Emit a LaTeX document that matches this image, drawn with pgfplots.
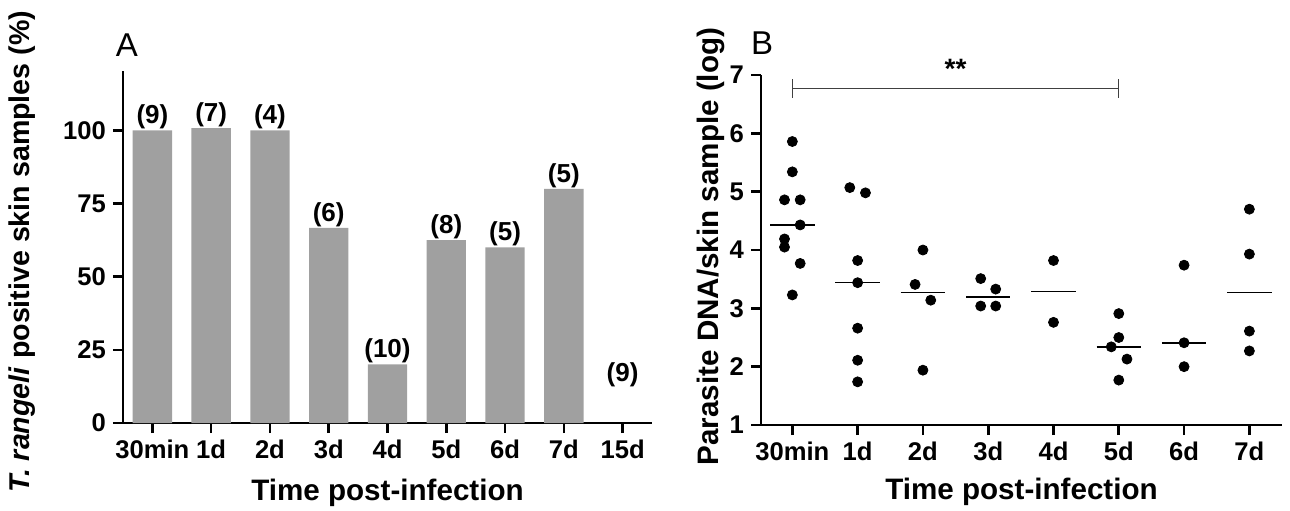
\documentclass[border=0pt]{standalone}
\usepackage{pgfplots}
\pgfplotsset{compat=1.18}
\usepackage{fontspec}
\setmainfont{Liberation Sans}
\definecolor{bargray}{RGB}{160,160,160}
\pgfplotstableread{
x y lab
0 100 (9)
1 100.8 (7)
2 100 (4)
3 66.7 (6)
4 20 (10)
5 62.5 (8)
6 60 (5)
7 80 (5)
}\bardata
\pgfplotstableread{
x y
0 5.86
0 5.34
-0.12 4.86
0.12 4.86
0.12 4.43
-0.12 4.19
-0.12 4.05
0.12 3.77
0 3.23
0.88 5.07
1.12 4.98
1 3.82
1 3.44
1 2.66
1 2.11
1 1.74
2 4.00
1.88 3.41
2.12 3.14
2 1.94
2.885 3.51
3.115 3.33
2.885 3.04
3.115 3.04
4 3.82
4 2.76
5 2.91
5 2.50
4.885 2.34
5.125 2.13
5 1.77
6 3.74
6 2.41
6 2.00
7 4.70
7 3.93
7 2.61
7 2.27
}\dotdata
\pgfplotstableread{
x y
-0.34 4.43
0.34 4.43
0.34 nan
0.66 3.44
1.34 3.44
1.34 nan
1.66 3.27
2.34 3.27
2.34 nan
2.66 3.19
3.34 3.19
3.34 nan
3.66 3.29
4.34 3.29
4.34 nan
4.66 2.34
5.34 2.34
5.34 nan
5.66 2.41
6.34 2.41
6.34 nan
6.66 3.27
7.34 3.27
}\mediandata
\begin{document}
\begin{tikzpicture}
\useasboundingbox (0,0) rectangle (645pt,-255pt);
\pgfplotsset{
  gp/.style={
    scale only axis,
    axis x line*=bottom, axis y line*=left,
    axis line style={line width=1.3pt, -},
    major tick style={black, line width=1.3pt},
    tick align=outside,
    major tick length=5pt,
    minor tick num=0,
    tick label style={font=\fontsize{12.8}{14}\selectfont\bfseries},
    /pgf/number format/assume math mode=true,
    label style={font=\fontsize{14.8}{17}\selectfont\bfseries},
    clip=false,
  }
}
% Panel A
\begin{axis}[gp, at={(61.5pt,-211.5pt)}, anchor=south west,
  width=264.5pt, height=176pt,
  xmin=-0.5, xmax=8.5, ymin=0, ymax=120.3,
  xtick={0,...,8}, xticklabels={30min,1d,2d,3d,4d,5d,6d,7d,15d},
  ytick={0,25,50,75,100},
  xlabel={Time post-infection},
  ylabel={\textit{T. rangeli} positive skin samples (\%)},
  xlabel style={at={(axis description cs:0.5,-0.197)}, anchor=center},
  ylabel style={at={(axis description cs:-0.191,0.487)}, anchor=center, font=\fontsize{14.3}{16}\selectfont\bfseries},
]
\addplot[ybar, bar width=0.67, fill=bargray, draw=none,
  nodes near coords, point meta=explicit symbolic,
  every node near coord/.style={font=\fontsize{13}{14}\selectfont\bfseries, anchor=south, inner sep=0.5pt, black}]
  table[x=x, y=y, meta=lab] {\bardata};
\node[font=\fontsize{13}{14}\selectfont\bfseries] at (axis cs:8,16.4) {(9)};
\end{axis}
\node[font=\fontsize{16.5}{18}\selectfont] at (63.5pt,-22.5pt) {A};
% Panel B
\begin{axis}[gp, at={(380.5pt,-212.5pt)}, anchor=south west,
  width=260.5pt, height=175pt,
  xmin=-0.48, xmax=7.5, ymin=1, ymax=7,
  xtick={0,...,7}, xticklabels={30min,1d,2d,3d,4d,5d,6d,7d},
  ytick={1,...,7},
  xlabel={Time post-infection},
  ylabel={Parasite DNA/skin sample (log)},
  xlabel style={at={(axis description cs:0.5,-0.191)}, anchor=center},
  ylabel style={at={(axis description cs:-0.096,0.51)}, anchor=center},
]
\addplot[only marks, mark=*, mark size=2.5pt, black] table[x=x, y=y] {\dotdata};
\addplot[black, line width=0.8pt, unbounded coords=jump] table[x=x, y=y] {\mediandata};
\addplot[black!75, line width=0.65pt] coordinates {(0,6.77) (5,6.77)};
\addplot[black!75, line width=0.65pt] coordinates {(0,6.61) (0,6.93)};
\addplot[black!75, line width=0.65pt] coordinates {(5,6.61) (5,6.93)};
\node[font=\fontsize{14}{16}\selectfont\bfseries] at (axis cs:2.5,7.1) {**};
\end{axis}
\node[font=\fontsize{16.5}{18}\selectfont] at (381pt,-21.5pt) {B};
\end{tikzpicture}
\end{document}
